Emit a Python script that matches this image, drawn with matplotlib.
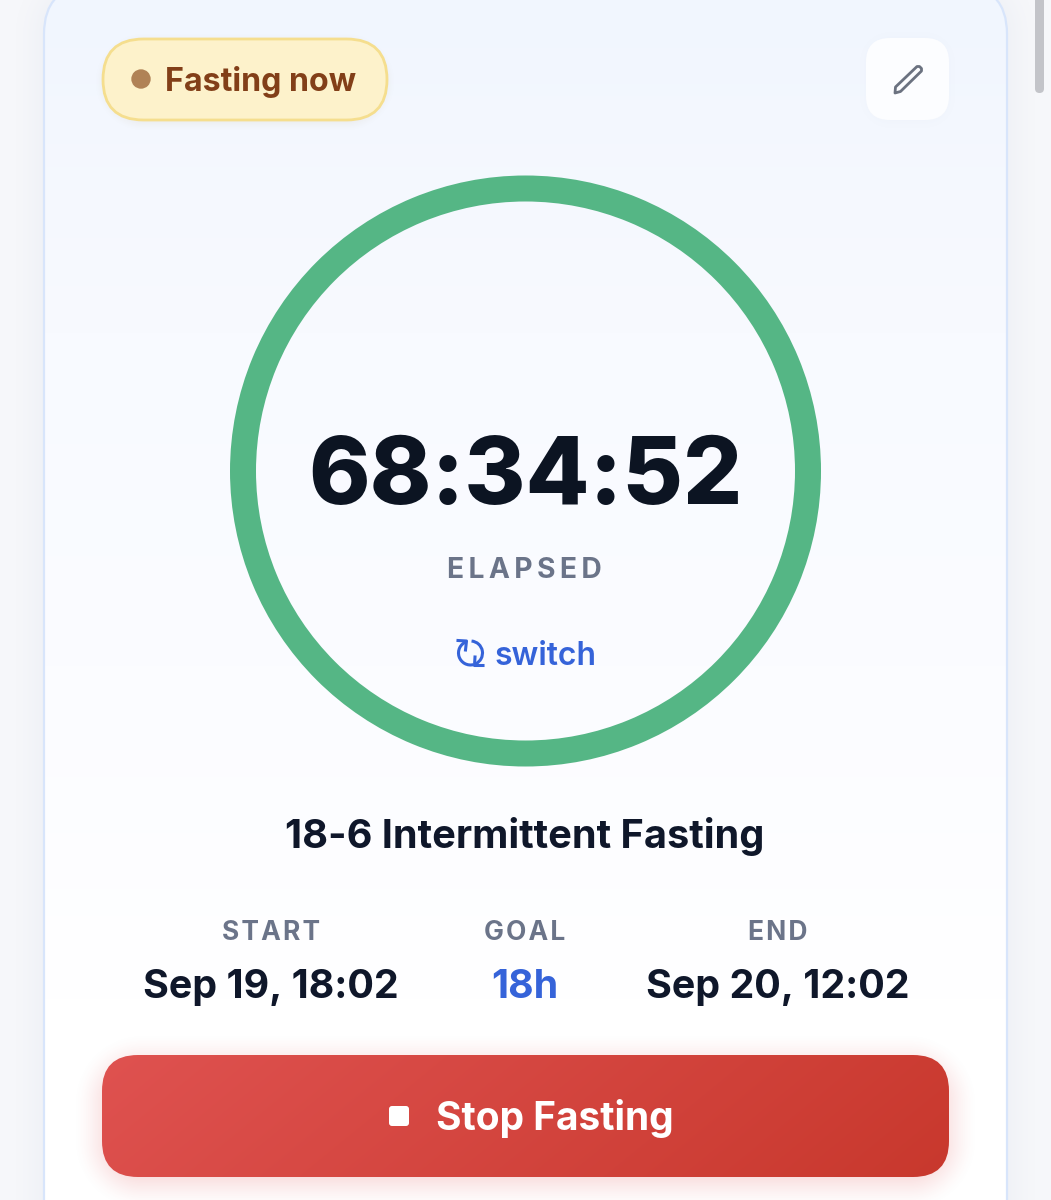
import numpy as np
import matplotlib
matplotlib.use("Agg")
import matplotlib.pyplot as plt
from matplotlib.colors import LinearSegmentedColormap, to_rgb
from matplotlib.patches import FancyBboxPatch, Wedge, Circle, Arc, Polygon

plt.rcParams['font.family'] = ['Inter', 'DejaVu Sans']

W, H = 1051, 1200

status_label = "Fasting now"
timer_text = "68:34:52"
timer_caption = "ELAPSED"
switch_label = "switch"
plan_name = "18-6 Intermittent Fasting"
info_labels = ["START", "GOAL", "END"]
info_values = ["Sep 19, 18:02", "18h", "Sep 20, 12:02"]
info_colors = ["#0f172a", "#3563d9", "#0f172a"]
button_label = "Stop Fasting"
progress_share = 1.0

fig = plt.figure(figsize=(W / 100, H / 100), dpi=100)
ax = fig.add_axes([0, 0, 1, 1])
ax.set_xlim(0, W)
ax.set_ylim(H, 0)
ax.axis("off")

yy, xx = np.mgrid[0:H, 0:W]
xx = xx + 0.5
yy = yy + 0.5


def spaced(s, sep="\u200a"):
    return sep.join(s)


def rounded_dist(x0, y0, x1, y1, r):
    # signed distance to a rounded rectangle
    cx, cy = (x0 + x1) / 2, (y0 + y1) / 2
    qx = np.abs(xx - cx) - (x1 - x0) / 2 + r
    qy = np.abs(yy - cy) - (y1 - y0) / 2 + r
    out = np.hypot(np.maximum(qx, 0), np.maximum(qy, 0))
    return out + np.minimum(np.maximum(qx, qy), 0) - r


def shadow(x0, y0, x1, y1, r, color, alpha, blur, z):
    d = rounded_dist(x0, y0, x1, y1, r)
    t = np.clip(0.5 - d / (2 * blur), 0, 1)
    img = np.zeros((H, W, 4))
    img[..., :3] = to_rgb(color)
    img[..., 3] = alpha * t ** 2 * (3 - 2 * t)
    ax.imshow(img, extent=(0, W, H, 0), zorder=z, aspect="auto", interpolation="bilinear")


def round_box(x0, y0, x1, y1, r, **kw):
    box = FancyBboxPatch((x0 + r, y0 + r), x1 - x0 - 2 * r, y1 - y0 - 2 * r,
                         boxstyle=f"round,pad={r},rounding_size={r}", **kw)
    ax.add_patch(box)
    return box


def gradient(colors, t, x0, y0, x1, y1, clip, z):
    cmap = LinearSegmentedColormap.from_list("g", colors, N=1024)
    sub = t[int(y0):int(y1), int(x0):int(x1)]
    im = ax.imshow(sub, extent=(int(x0), int(x1), int(y1), int(y0)), cmap=cmap, vmin=0, vmax=1,
                   zorder=z, aspect="auto", interpolation="bilinear")
    im.set_clip_path(clip)


# page
fig.patch.set_facecolor("#f6f7fa")
ax.set_xlim(0, W)
ax.set_ylim(H, 0)

# card
shadow(44, -14, 1007, 1260, 48, "#b9c3d8", 0.20, 34, 1)
card = round_box(44, -14, 1007, 1260, 48, facecolor="none", edgecolor="#d8e5fb", linewidth=1.6, zorder=3)
card_t = np.clip((yy - 0) / 1000, 0, 1)
gradient(["#f1f6fe", "#f8faff", "#fbfcff", "#ffffff"], card_t, 44, 0, 1007, H, card, 2)

# status pill
shadow(102, 40, 388, 124, 42, "#b9a98a", 0.14, 8, 4)
round_box(103, 39, 387, 120, 40.5, facecolor="#fdf2cb", edgecolor="#f5de8e", linewidth=2, zorder=5)
ax.add_patch(Circle((141, 79), 9.7, facecolor="#b08256", edgecolor="none", zorder=6))
ax.text(165, 78.5, status_label, fontsize=23.2, fontweight="bold", color="#823f18",
        ha="left", va="center_baseline", zorder=6)

# edit button
shadow(866, 38, 949, 122, 24, "#c5cfe0", 0.08, 8, 4)
round_box(866, 38, 949, 120, 24, facecolor="#fcfdff", edgecolor="none", zorder=5)
pencil = Polygon([[895.5, 87], [917, 66.5], [919.5, 66.5], [921.5, 68.5], [921.5, 71], [900.5, 91.5], [895, 93]],
                 closed=True, facecolor="none", edgecolor="#6b7280", linewidth=2.0, joinstyle="round", zorder=6)
ax.add_patch(pencil)

# progress ring
ax.add_patch(Wedge((525.5, 471), 295.5, -90, -90 + 360 * progress_share, width=26,
                   facecolor="#55b685", edgecolor="none", zorder=5))

ax.text(525, 470, timer_text, fontsize=67, fontweight=800, color="#0c1422",
        ha="center", va="center_baseline", zorder=6)
ax.text(524.5, 568, spaced(timer_caption, "\u2009"), fontsize=20.3, fontweight="bold", color="#6b7489",
        ha="center", va="center_baseline", zorder=6)

# switch
sw = "#3563d9"
ax.add_patch(Arc((470.5, 653), 24, 24, theta1=75, theta2=250, edgecolor=sw, linewidth=2.2, zorder=6))
ax.add_patch(Arc((470.5, 653), 24, 24, theta1=-85, theta2=65, edgecolor=sw, linewidth=2.2, zorder=6))
ax.plot([458, 466.5, 465.5], [640.5, 641, 650], color=sw, linewidth=2.2, zorder=6)
ax.plot([483, 474.5, 475], [665.5, 665.5, 657], color=sw, linewidth=2.2, zorder=6)
ax.text(494.5, 653, switch_label, fontsize=23, fontweight="semibold", color=sw,
        ha="left", va="center_baseline", zorder=6)

# plan name
ax.text(525, 833, plan_name, fontsize=28.6, fontweight="bold", color="#0f172a",
        ha="center", va="center_baseline", zorder=6)

# start, goal, end
for cx, lab, val, col in zip([271, 525, 778], info_labels, info_values, info_colors):
    ax.text(cx, 930, spaced(lab), fontsize=19, fontweight="bold", color="#6b7489",
            ha="center", va="center_baseline", zorder=6)
    ax.text(cx, 984, val, fontsize=28.4, fontweight="bold", color=col,
            ha="center", va="center_baseline", zorder=6)

# stop button
shadow(102, 1062, 949, 1182, 40, "#e2585a", 0.30, 30, 4)
btn = round_box(102, 1055, 949, 1177, 36, facecolor="none", edgecolor="none", zorder=6)
btn_t = np.clip(((xx - 102) / 847 * 0.85 + (yy - 1055) / 122 * 0.15), 0, 1)
gradient(["#df5250", "#c8382d"], btn_t, 102, 1055, 949, 1177, btn, 5)
round_box(389, 1106, 409, 1126, 3, facecolor="#ffffff", edgecolor="none", zorder=7)
ax.text(555, 1115, button_label, fontsize=28, fontweight="bold", color="#ffffff",
        ha="center", va="center_baseline", zorder=7)

# scrollbar
round_box(1035, -20, 1044, 93, 4.5, facecolor="#c3c4c9", edgecolor="none", zorder=7)

fig.savefig("out.png", dpi=100, facecolor=fig.get_facecolor())
